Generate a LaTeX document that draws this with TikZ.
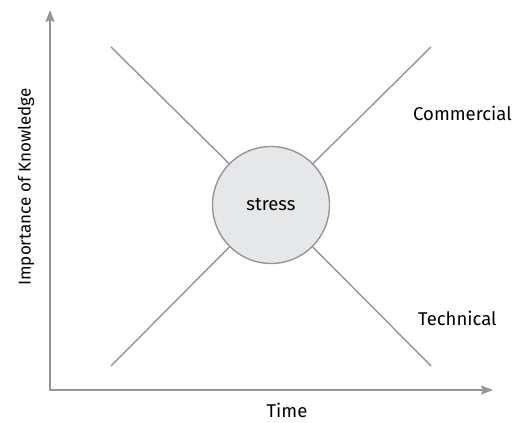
\documentclass[tikz,border=0pt]{standalone}
\usepackage{fontspec}
\setmainfont{Fira Sans}
\usetikzlibrary{arrows.meta}
\definecolor{linegray}{HTML}{939598}
\definecolor{fillgray}{HTML}{E6E7E8}
\begin{document}
\begin{tikzpicture}[x=1pt, y=1pt, >={Stealth[length=12pt, width=9pt, inset=2pt]},
  axis/.style={draw=linegray, line width=1.8pt},
  trend/.style={draw=linegray, line width=1.4pt},
  label/.style={font=\fontsize{18.5}{22}\selectfont, text=black}]
\useasboundingbox (0,0) rectangle (518,422);
\def\cx{271}
\def\cy{217}

\coordinate (origin) at (50,32);
\coordinate (ytip) at (50,412);
\coordinate (xtip) at (493,32);
\draw[axis, <->, linegray] (ytip) -- (origin) -- (xtip);

\node[circle, draw=linegray, fill=fillgray, line width=1.4pt, minimum size=117pt,
  label] (stress) at (\cx,\cy) {stress};

\coordinate (tl) at (111,375);
\coordinate (tr) at (431,375);
\coordinate (bl) at (111,56);
\coordinate (br) at (431,56);
\foreach \c in {tl, tr, bl, br}
  \draw[trend] (\c) -- (stress);

\node[label, anchor=west, inner sep=0pt] (commercial) at (413,309) {Commercial};
\node[label, anchor=west, inner sep=0pt] (technical) at (418,104) {Technical};
\node[label] (time) at (287,12) {Time};
\node[label, font=\fontsize{17}{20}\selectfont, rotate=90] (importance) at (26,235) {Importance of Knowledge};
\end{tikzpicture}
\end{document}
